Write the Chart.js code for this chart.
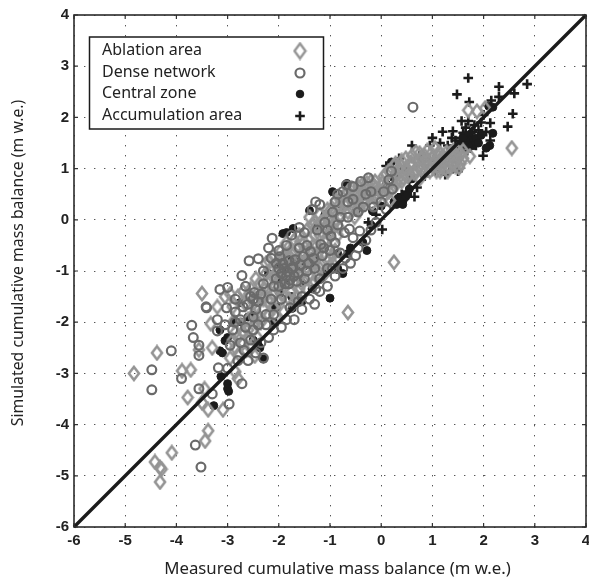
<!DOCTYPE html>
<html>
<head>
<meta charset="utf-8">
<title>Measured vs simulated mass balance</title>
<script src="https://cdn.jsdelivr.net/npm/chart.js@4"></script>
<style>
    html, body { margin: 0; padding: 0; background: #fff; }
    #wrap { width: 589px; height: 580px; position: relative; }
</style>
</head>
<body>
<div id="wrap"><canvas id="chartBalance" width="589" height="580"></canvas></div>
<script>
const tickValues = [-6, -5, -4, -3, -2, -1, 0, 1, 2, 3, 4];
const xTitle = "Measured cumulative mass balance (m w.e.)";
const yTitle = "Simulated cumulative mass balance (m w.e.)";
const seriesNames = ["Ablation area", "Dense network", "Central zone", "Accumulation area"];
const oneToOne = [[-6, -6], [4, 4]];

const ablationPoints = [
    [-4.83,-3.0],[-4.38,-2.6],[-3.89,-2.95],[-3.72,-2.93],[-3.78,-3.47],[-3.33,-2.03],[-3.5,-1.44],[-3.56,-2.54],
    [-4.42,-4.73],[-4.32,-4.84],[-4.29,-4.87],[-4.32,-5.12],[-4.09,-4.55],[-3.38,-4.12],[-3.44,-4.32],[-3.38,-3.71],
    [-3.09,-3.71],[-3.5,-3.57],[-3.45,-3.3],[-2.8,-3.1],[-2.85,-2.97],[-2.47,-2.66],[-3.3,-2.5],[-3.2,-1.7],
    [0.25,-0.83],[-0.65,-1.81],[2.55,1.4],[1.73,1.24],[1.7,2.14],[1.87,2.12],[2.03,2.18],[0.17,0.38],
    [-2.95,-2.7],[-2.85,-2.5],[-2.78,-2.62],[-2.7,-2.4],[-2.65,-2.55],[-2.6,-2.3],[-2.55,-2.5],[-2.5,-2.15],
    [-2.42,-2.3],[-2.35,-2.0],[-2.85,-2.2],[-2.75,-2.05],[-2.7,-2.2],[-2.6,-1.95],[-2.5,-1.85],[-2.3,-1.75],
    [-2.2,-1.85],[-2.1,-1.7],[-2.0,-1.6],[-1.9,-1.8],[-1.8,-1.55],[-1.75,-1.4],[-1.65,-1.5],[-1.55,-1.25],
    [-1.45,-1.35],[-1.4,-1.1],[-1.3,-1.2],[-1.2,-0.95],[-1.1,-1.05],[-1.05,-0.8],[-0.95,-0.85],[-0.9,-0.6],
    [-3.05,-1.5],[-2.95,-1.45],[-2.8,-1.5],[-2.7,-1.4],[-2.55,-1.35],[-2.45,-1.15],[-2.3,-1.35],[-2.2,-1.2],
    [-2.15,-0.95],[-2.05,-1.05],[-1.95,-0.8],[-1.85,-0.95],[-1.8,-0.7],[-1.7,-0.85],[-1.65,-0.55],[-1.55,-0.7],
    [-1.5,-0.45],[-1.4,-0.6],[-1.3,-0.3],[-1.25,-0.5],[-1.15,-0.25],[-1.05,-0.4],[-0.95,-0.15],[-0.85,-0.3],
    [-1.75,-1.1],[-1.6,-1.0],[-1.5,-0.85],[-1.35,-0.85],[-1.25,-0.7],
    [-1.4,0.05],[-1.3,-0.05],[-1.2,0.1],[-1.05,0.2],[-1.0,0.05],[-0.85,0.25],[-0.8,0.4],[-0.7,0.3],
    [-0.65,0.55],[-0.55,0.2],[-0.5,0.45],[-0.45,0.65],[-0.35,0.35],[-0.3,0.6],[-0.2,0.75],[-0.15,0.45],
    [-0.05,0.6],[0.05,0.85],[0.1,0.65],[0.2,0.75],[0.25,1.05],[0.3,0.9],[0.4,1.15],[0.45,0.9],
    [0.5,1.0],[0.6,1.25],[0.7,0.95],[0.75,1.3],[0.85,1.1],[0.9,1.35],[1.0,1.2],[1.05,1.4],
    [0.95,0.95],[1.1,1.05],[1.2,1.25],[1.25,1.0],[1.35,1.15],[1.4,1.35],[1.5,1.2],[1.55,1.1],[1.6,1.35],[0.75,0.8],
    [-2.9,-1.7],[-2.65,-1.65],[-2.45,-1.55],[-2.3,-1.55],[-2.1,-1.45],[-1.95,-1.35],[-1.85,-1.15],[-1.7,-1.25],
    [-1.55,-1.05],[-1.45,-0.75],[-1.35,-0.65],[-2.25,-0.85],[-2.1,-0.7],[-1.95,-0.6],[-1.85,-0.45],[-1.7,-0.4],
    [-1.6,-0.3],[-1.45,-0.2],[-1.35,-0.1],[-1.2,-0.3],[-1.1,-0.15],[-1.0,-0.25],[-0.9,-0.05],[-0.8,0.1],
    [-0.65,0.15],[-0.55,0.35],[-0.45,0.3],[-0.4,0.5],[-0.25,0.45],[-0.1,0.4],[0.0,0.55],[-0.15,0.65],
    [0.1,0.9],[0.15,0.55],[0.3,0.7],[0.4,0.75],[0.35,1.0],[0.55,0.9],[0.6,1.05],[0.7,1.15],
    [0.8,1.0],[0.85,1.25],[1.0,1.05],[1.1,1.25],[1.15,1.15],[1.3,1.2],[1.35,1.3],[1.45,1.25],
    [1.55,1.3],[1.15,0.95],[1.3,0.95],[1.45,1.05],[1.6,1.2],[-2.9,-2.35],[-2.8,-2.3],[-2.6,-2.15],
    [-2.45,-2.0],[-2.2,-1.6],[-2.4,-1.9],[-2.05,-1.9],[-1.95,-1.45],[-1.7,-1.6],[-1.6,-1.35],[-1.35,-1.25],
    [-1.25,-1.05],[-1.15,-0.85],[-1.0,-0.9],[-0.95,-0.7],
    [-2.25,-1.05],[-2.18,-0.82],[-2.12,-1.12],[-2.03,-0.92],[-1.98,-1.2],[-1.92,-0.72],[-1.88,-1.02],[-1.82,-0.55],
    [-1.78,-0.92],[-1.72,-0.62],[-1.68,-1.02],[-1.62,-0.78],[-1.58,-0.42],[-1.52,-0.62],[-1.48,-0.98],[-1.42,-0.38],
    [-1.38,-0.78],[-1.32,-0.5],[-1.28,-0.15],[-1.22,-0.62],[-1.18,-0.05],[-1.12,-0.42],[-1.08,0.05],[-1.02,-0.55],
    [-0.98,0.2],[-0.92,0.12],[-0.88,0.38],[-0.82,-0.15],[-0.78,0.22],[-0.72,0.48],[-0.62,0.42],
    [-0.58,0.62],[-0.52,0.05],[-0.48,0.55],[-0.42,0.22],[-0.38,0.68],[-0.32,0.42],[-0.28,0.72],[-0.22,0.55],
    [-0.18,0.32],[-0.12,0.75],[-0.08,0.52],[0.02,0.72],[0.08,0.48],[0.15,0.95],[0.22,0.62],[0.28,1.1],
    [0.33,0.8],[0.38,1.05],[0.43,0.82],[0.48,1.2],[0.52,0.85],[0.58,1.12],[0.63,0.92],[0.68,1.32],
    [0.73,1.02],[0.78,1.2],[0.83,0.92],[0.88,1.18],[0.92,1.05],[0.98,1.3],[1.03,1.12],[1.08,0.95],
    [1.13,1.32],[1.18,1.05],[1.23,1.15],[1.28,1.32],[1.33,1.05],[1.38,1.25],[1.42,1.1],[1.48,1.35],
    [1.52,1.02],[-2.58,-1.45],[-2.48,-1.62],[-2.38,-1.25],[-2.28,-1.48],[-2.18,-1.52],[-2.08,-1.28],[-2.88,-1.98]
];

const densePoints = [
    [-4.48,-2.93],[-4.48,-3.32],[-4.1,-2.56],[-3.67,-2.3],[-3.7,-2.06],[-3.41,-1.72],[-3.9,-3.1],[-3.56,-3.3],
    [-3.56,-2.65],[-3.56,-2.45],[-3.63,-4.4],[-3.52,-4.83],[-2.97,-3.6],[-3.3,-3.4],[-3.18,-2.89],[-3.0,-2.9],
    [-3.2,-2.17],[-2.72,-3.2],[-2.3,-2.7],[0.62,2.2],[-2.58,-0.8],[-2.4,-0.76],[-2.72,-1.09],[-2.13,-0.36],
    [-2.2,-0.55],[-3.42,-1.7],[-3.15,-1.36],[-3.0,-1.32],[-3.02,-1.72],[-2.85,-1.8],[-2.6,-1.65],[-2.45,-1.75],
    [-2.95,-2.45],[-2.8,-2.75],[-2.6,-2.75],[-2.45,-2.6],[-2.9,-2.15],[-2.65,-2.1],[-2.4,-2.05],[-2.2,-2.3],
    [-2.1,-2.15],[-1.95,-2.1],[-1.85,-1.95],[-1.7,-1.95],[-1.55,-1.75],[-1.4,-1.55],[-1.3,-1.65],[-1.2,-1.4],
    [-1.05,-1.3],[-0.9,-1.1],[-0.75,-0.95],[-0.6,-0.85],[-0.45,-0.55],[-0.3,-0.4],[-0.2,-0.2],[-0.1,-0.05],
    [-3.2,-1.95],[-3.05,-2.05],[-2.85,-1.55],[-2.7,-1.7],[-2.5,-1.55],[-2.35,-1.45],[-2.15,-1.55],[-2.0,-1.3],
    [-1.95,-1.55],[-1.8,-1.25],[-1.65,-1.2],[-1.45,-1.0],[-1.3,-0.95],[-1.15,-0.7],[-1.0,-0.6],[-0.8,-0.65],
    [-2.3,-1.0],[-2.15,-0.75],[-2.0,-0.6],[-1.85,-0.5],[-1.75,-0.3],[-1.6,-0.15],[-1.5,-0.25],[-1.35,0.2],
    [-1.28,0.35],[-1.2,0.3],[-1.1,-0.05],[-0.95,0.15],[-0.8,0.05],[-0.65,0.05],[-0.55,0.4],[-0.45,0.15],
    [-0.3,0.5],[-0.15,0.25],[0.0,0.35],[0.1,0.2],[-0.55,0.65],[-0.4,0.75],[-0.2,0.55],[0.2,0.95],[0.22,0.6],[-1.95,-1.05],
    [-2.05,-1.15],[-2.0,-0.95],[-1.9,-0.95],[-1.85,-1.1],[-1.8,-0.8],[-2.1,-1.3],[-1.75,-0.95],[-1.7,-1.1],
    [-2.3,-1.25],[-2.55,-1.5],[-2.75,-1.95],[-2.5,-1.9],[-2.25,-1.85],[-2.1,-1.85],[-2.75,-2.4],[-2.55,-2.35],
    [-2.35,-2.4],[-1.55,-1.5],[-1.5,-1.15],[-1.2,-1.15],[-1.05,-0.95],[-0.7,-0.75],[-0.5,-0.7],[-0.65,0.35],
    [-0.35,0.25],[0.05,0.55],[-0.9,0.35],[-0.75,0.55],[-1.6,-0.55],[-1.45,-0.5],[-1.25,-0.2],[-1.05,-0.2],
    [-2.05,-0.85],[-1.98,-0.72],[-1.92,-0.85],[-1.88,-1.25],[-1.82,-1.02],[-1.78,-1.18],[-1.72,-0.92],[-1.68,-0.78],
    [-1.62,-1.05],[-1.58,-0.88],[-1.52,-0.72],[-1.42,-0.85],[-1.38,-0.62],[-1.32,-0.75],[-1.18,-0.48],[-1.12,-0.55],
    [-0.98,-0.32],[-0.9,-0.45],[-0.85,-0.1],[-0.72,-0.25],[-0.62,-0.18],[-0.55,-0.35],[-2.65,-1.3],[-2.48,-1.42],
    [-2.4,-1.6],[-2.85,-2.0],[-2.68,-2.55],[-2.5,-2.15],[-2.25,-2.05],[-1.78,-1.72],[-1.62,-1.6],[-1.28,-1.35],
    [-0.95,-0.95],[-0.42,-0.22],[-0.85,0.5],[-0.68,0.68],[-0.25,0.82],[0.15,0.78]
];

const centralPoints = [
    [-3.15,-2.15],[-2.9,-2.0],[-2.85,-2.0],[-2.72,-2.0],[-3.1,-2.6],[-3.0,-2.3],[-3.13,-3.06],[-3.0,-3.2],
    [-3.0,-3.3],[-2.98,-3.35],[-3.27,-3.63],[-2.5,-2.35],[-2.4,-2.45],[-2.3,-2.72],[-0.67,0.71],[-0.28,-0.6],
    [-0.36,-0.44],[-0.85,-0.66],[-0.65,-0.66],[-0.17,0.17],[0.0,0.27],[0.3,0.3],[0.38,0.35],[0.43,0.38],
    [0.48,0.45],[0.52,0.5],[0.42,0.3],[0.55,0.6],[2.18,2.2],[2.1,2.22],[2.18,1.69],[2.12,1.45],[2.05,1.4],
    [0.2,1.13],[-1.4,0.18],[-1.85,-0.25],[-1.1,0.1],[-1.92,-0.27],[-1.72,-0.17],[-1.8,-0.85],[-2.2,-1.05],
    [-1.6,-0.95],[-1.5,-0.9],[-2.05,-0.85],[-1.9,-1.2],[-1.75,-1.5],[-1.55,-1.6],[-1.25,-0.15],[-1.0,-0.15],
    [-0.75,-1.05],[-0.95,0.55],[-0.5,0.15],[0.1,0.7],[0.3,0.85],[0.6,0.8],[1.75,1.55],[1.8,1.45],[1.85,1.6],
    [-2.6,-1.9],[-2.35,-1.6],[-2.1,-2.0],[-1.35,-1.35],[-0.85,-0.95],[-0.6,-0.55],[-0.2,-0.1],[-0.1,0.55],
    [1.7,1.45],[1.65,1.55],[1.9,1.5],[1.95,1.65],[1.6,1.6],[0.33,0.42],[0.25,0.35],[-1.9,-1.0],[-1.98,-1.12],
    [-1.0,-1.53],[-1.33,-0.85],[-1.84,-0.76],[-1.7,-0.76],[-1.49,-0.76],[-1.3,-0.7],[-1.55,-1.23],[-2.04,-1.71],
    [-1.98,-1.44],[-2.5,-1.87],[-2.76,-1.62],[-1.06,-1.03],[-3.15,-2.56],[-3.05,-2.36],[-2.37,-2.5],[-1.74,-1.73],[-2.07,-1.71]
];

const accumulationPoints = [
    [1.7,2.77],[1.48,2.45],[2.3,2.6],[2.3,2.4],[2.6,2.47],[2.85,2.65],[2.57,2.07],[2.47,1.82],[2.13,1.89],[1.99,1.25],
    [1.72,2.3],[1.57,1.93],[1.7,1.93],[1.2,1.72],[1.4,1.73],[1.38,1.6],[2.13,1.55],[2.15,2.33],[0.02,-0.19],[-0.8,-1.03],
    [0.7,0.63],[0.55,0.75],[0.85,0.85],[1.0,1.6],[0.95,1.45],[1.15,1.5],[1.3,1.45],[1.55,1.6],[1.6,1.5],[1.65,1.65],
    [1.7,1.5],[1.72,1.62],[1.78,1.72],[1.8,1.55],[1.85,1.45],[1.9,1.62],[1.75,1.4],[1.68,1.35],[1.82,1.85],[1.95,1.9],
    [2.0,2.05],[1.6,1.42],[1.9,1.75],[1.65,1.8],[1.45,1.55],[1.52,1.4],[0.65,0.45],[0.5,0.55],[0.4,0.5],[0.6,1.45],
    [0.35,1.2],[0.2,0.85],[0.1,1.05],[0.45,1.0],[0.75,1.25],[1.05,0.95],[1.25,0.88],[1.4,1.0],[1.5,0.95],[0.95,1.15],
    [-0.25,-0.05],[-0.1,0.1],[2.05,1.72],[-0.75,0.25],[-0.4,0.4],[1.6,1.7],[1.75,1.7],[1.85,1.55],[1.7,1.42],[1.55,1.52]
];

const darkInk = "#1b1b1b";
const diamondGrey = "#949494";
const circleGrey = "#6a6a6a";

// diamonds in the figure are taller than wide, rectRot would be square
function makeDiamond(w, h, color, lw) {
    const c = document.createElement("canvas");
    c.width = w + 4;
    c.height = h + 4;
    const g = c.getContext("2d");
    const cx = c.width / 2, cy = c.height / 2;
    g.strokeStyle = color;
    g.lineWidth = lw;
    g.beginPath();
    g.moveTo(cx, cy - h / 2);
    g.lineTo(cx + w / 2, cy);
    g.lineTo(cx, cy + h / 2);
    g.lineTo(cx - w / 2, cy);
    g.closePath();
    g.stroke();
    return c;
}

const toXY = (pts) => pts.map((p) => ({ x: p[0], y: p[1] }));
const diamond = makeDiamond(10, 13, diamondGrey, 2.6);
const legendDiamond = makeDiamond(11, 15, diamondGrey, 2.4);

const legendBox = {
    id: "legendBox",
    afterDatasetsDraw(chart) {
        const { ctx } = chart;
        const rows = [50, 72, 93, 115];
        const styles = [
            { pointStyle: legendDiamond, radius: 7, borderWidth: 0 },
            { pointStyle: "circle", radius: 4.5, stroke: circleGrey, borderWidth: 2.2 },
            { pointStyle: "circle", radius: 3.8, stroke: darkInk, fill: darkInk, borderWidth: 1 },
            { pointStyle: "cross", radius: 4.8, stroke: darkInk, borderWidth: 2.6 }
        ];
        ctx.save();
        ctx.fillStyle = "#fff";
        ctx.fillRect(89.5, 37, 234, 92);
        ctx.strokeStyle = darkInk;
        ctx.lineWidth = 1.5;
        ctx.strokeRect(89.5, 37, 234, 92);
        ctx.font = "16px 'Noto Sans'";
        ctx.textBaseline = "middle";
        seriesNames.forEach((name, i) => {
            ctx.fillStyle = "#222";
            ctx.fillText(name, 102, rows[i]);
            const s = styles[i];
            ctx.strokeStyle = s.stroke || diamondGrey;
            ctx.fillStyle = s.fill || "rgba(0,0,0,0)";
            ctx.lineWidth = s.borderWidth || 1;
            Chart.helpers.drawPoint(ctx, { pointStyle: s.pointStyle, radius: s.radius, rotation: 0, borderWidth: s.borderWidth }, 300, rows[i] + 1);
        });
        ctx.restore();
    }
};

// axis titles sit off centre in the figure, the scale title option can't do that
const axisTitles = {
    id: "axisTitles",
    afterDraw(chart) {
        const { ctx } = chart;
        ctx.save();
        ctx.fillStyle = "#222";
        ctx.textAlign = "center";
        ctx.textBaseline = "middle";
        ctx.font = "16.8px 'Noto Sans'";
        ctx.fillText(xTitle, 337.5, 569);
        ctx.translate(18, 263);
        ctx.rotate(-Math.PI / 2);
        ctx.font = "15.8px 'Noto Sans'";
        ctx.fillText(yTitle, 0, 0);
        ctx.restore();
    }
};

// small inward ticks on all four sides, and the frame over the markers
const frameTicks = {
    id: "frameTicks",
    afterDraw(chart) {
        const { ctx, chartArea: a, scales } = chart;
        ctx.save();
        ctx.strokeStyle = "#333";
        ctx.lineWidth = 1.2;
        ctx.beginPath();
        tickValues.forEach((v) => {
            const px = scales.x.getPixelForValue(v);
            const py = scales.y.getPixelForValue(v);
            ctx.moveTo(px, a.top); ctx.lineTo(px, a.top + 4);
            ctx.moveTo(px, a.bottom); ctx.lineTo(px, a.bottom - 4);
            ctx.moveTo(a.left, py); ctx.lineTo(a.left + 4, py);
            ctx.moveTo(a.right, py); ctx.lineTo(a.right - 4, py);
        });
        ctx.stroke();
        ctx.strokeStyle = "#2b2b2b";
        ctx.lineWidth = 1.6;
        ctx.strokeRect(a.left, a.top, a.right - a.left, a.bottom - a.top);
        ctx.restore();
    }
};

const axisCommon = {
    type: "linear",
    min: -6,
    max: 4,
    afterBuildTicks: (axis) => { axis.ticks = tickValues.map((v) => ({ value: v })); },
    grid: {
        color: "#555",
        lineWidth: 1,
        drawTicks: false,
        drawOnChartArea: true
    },
    border: { display: false, dash: [1.4, 8.6] },
    ticks: {
        color: "#222",
        font: { family: "'Liberation Sans'", size: 15, weight: "bold" },
        padding: 5,
        maxRotation: 0,
        autoSkip: false,
        callback: (v) => String(v)
    }
};

// first dataset is painted last: rings over diamonds over dots over crosses
new Chart(document.getElementById("chartBalance"), {
    type: "scatter",
    data: {
        datasets: [
            {
                label: "1:1",
                data: toXY(oneToOne),
                showLine: true,
                pointRadius: 0,
                borderColor: darkInk,
                borderWidth: 3.4
            },
            {
                label: seriesNames[1],
                data: toXY(densePoints),
                pointStyle: "circle",
                pointRadius: 4.4,
                pointBorderWidth: 2.2,
                borderColor: circleGrey,
                backgroundColor: "transparent"
            },
            {
                label: seriesNames[0],
                data: toXY(ablationPoints),
                pointStyle: diamond,
                pointRadius: 7,
                borderColor: diamondGrey,
                backgroundColor: "transparent"
            },
            {
                label: seriesNames[2],
                data: toXY(centralPoints),
                pointStyle: "circle",
                pointRadius: 4,
                pointBorderWidth: 1,
                borderColor: darkInk,
                backgroundColor: darkInk
            },
            {
                label: seriesNames[3],
                data: toXY(accumulationPoints),
                pointStyle: "cross",
                pointRadius: 4.8,
                pointBorderWidth: 2.6,
                borderColor: darkInk,
                backgroundColor: darkInk
            }
        ]
    },
    options: {
        responsive: false,
        animation: false,
        clip: false,
        layout: { autoPadding: false, padding: { top: 15, right: 3, bottom: 0, left: 0 } },
        plugins: {
            legend: { display: false },
            tooltip: { enabled: false }
        },
        scales: {
            x: {
                ...axisCommon,
                afterFit: (axis) => { axis.height = 53; axis.paddingRight = 0; axis.paddingLeft = 0; }
            },
            y: {
                ...axisCommon,
                afterFit: (axis) => { axis.width = 74; }
            }
        }
    },
    plugins: [legendBox, axisTitles, frameTicks]
});
</script>
</body>
</html>
